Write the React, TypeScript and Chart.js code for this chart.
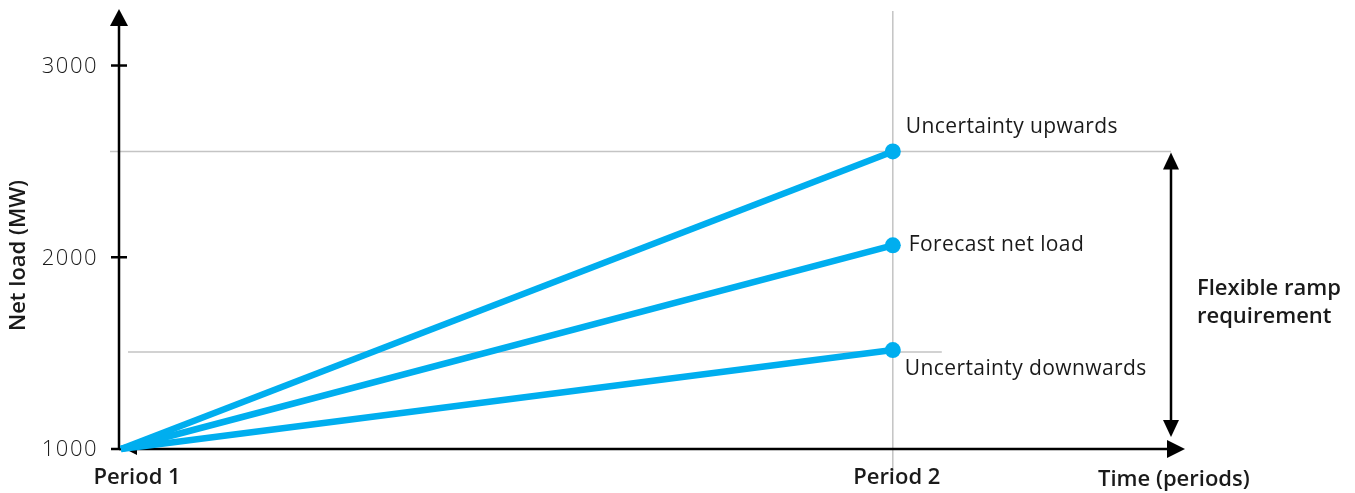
import React, { useEffect, useRef } from "react";
import { Chart, registerables } from "chart.js";

Chart.register(...registerables);

// ---- data ----
const periodValues = [0, 1];
const periodLabels = ["Period 1", "Period 2"];
const upwardSeries = [1000, 2552];
const forecastSeries = [1000, 2062];
const downwardSeries = [1000, 1516];
const yTickValues = [1000, 2000, 3000];
const seriesNames = ["Uncertainty upwards", "Forecast net load", "Uncertainty downwards"];
const xAxisTitle = "Time (periods)";
const yAxisTitle = "Net load (MW)";
const rampLabel = ["Flexible ramp", "requirement"];

const BLUE = "#00AEEF";
const GRAY = "#c4c4c4";
const TEXT = "#1a1a1a";
const FONT = "'Open Sans', 'Noto Sans', sans-serif";

function tri(ctx: CanvasRenderingContext2D, pts: number[][]) {
  ctx.beginPath();
  ctx.moveTo(pts[0][0], pts[0][1]);
  ctx.lineTo(pts[1][0], pts[1][1]);
  ctx.lineTo(pts[2][0], pts[2][1]);
  ctx.closePath();
  ctx.fill();
}

const decorPlugin = {
  id: "decor",
  beforeDatasetsDraw(chart: any) {
    const ctx: any = chart.ctx;
    const x = chart.scales.x;
    const y = chart.scales.y;
    const area = chart.chartArea;
    const x0 = x.getPixelForValue(periodValues[0]);
    const x1 = x.getPixelForValue(periodValues[1]);
    const yUp = y.getPixelForValue(upwardSeries[1]);
    const yDown = y.getPixelForValue(downwardSeries[1]);
    const yBase = y.getPixelForValue(yTickValues[0]);
    ctx.save();
    // gray reference lines
    ctx.strokeStyle = GRAY;
    ctx.lineWidth = 1.5;
    ctx.beginPath();
    ctx.moveTo(x0 - 11, yUp);
    ctx.lineTo(area.right - 12, yUp);
    ctx.moveTo(x0 + 7, yDown + 2);
    ctx.lineTo(x1 + 49, yDown + 2);
    ctx.moveTo(x1, area.top + 3);
    ctx.lineTo(x1, yBase + 23);
    ctx.stroke();

    // axes
    ctx.strokeStyle = "#000";
    ctx.fillStyle = "#000";
    ctx.lineWidth = 2.5;
    const ax = x0 - 2;
    ctx.beginPath();
    ctx.moveTo(ax, yBase);
    ctx.lineTo(ax, area.top + 14);
    ctx.moveTo(ax, yBase);
    ctx.lineTo(area.right - 14, yBase);
    ctx.stroke();
    tri(ctx, [[ax, area.top + 1], [ax - 9, area.top + 18], [ax + 9, area.top + 18]]);
    tri(ctx, [[area.right + 2, yBase], [area.right - 16, yBase - 9], [area.right - 16, yBase + 9]]);
    tri(ctx, [[x0 + 4, yBase], [x0 + 16, yBase - 6], [x0 + 16, yBase + 6]]);

    // y ticks
    ctx.lineWidth = 2.5;
    ctx.font = `300 22px ${FONT}`;
    ctx.letterSpacing = "1.5px";
    ctx.fillStyle = TEXT;
    ctx.textAlign = "right";
    ctx.textBaseline = "middle";
    for (const v of yTickValues) {
      const py = y.getPixelForValue(v);
      ctx.beginPath();
      ctx.moveTo(ax - 8, py);
      ctx.lineTo(ax + 8, py);
      ctx.stroke();
      ctx.fillText(String(v), ax - 21, py + 1);
    }
    ctx.letterSpacing = "0px";

    // ramp arrow
    const rx = area.right - 12;
    ctx.fillStyle = "#000";
    ctx.beginPath();
    ctx.moveTo(rx, yUp + 12);
    ctx.lineTo(rx, yBase - 24);
    ctx.stroke();
    tri(ctx, [[rx, yUp + 1], [rx - 8, yUp + 18], [rx + 8, yUp + 18]]);
    tri(ctx, [[rx, yBase - 12], [rx - 8, yBase - 29], [rx + 8, yBase - 29]]);
    ctx.restore();
  },
  afterDatasetsDraw(chart: any) {
    const ctx: any = chart.ctx;
    const x = chart.scales.x;
    const y = chart.scales.y;
    const area = chart.chartArea;
    const x1 = x.getPixelForValue(periodValues[1]);
    const yBase = y.getPixelForValue(yTickValues[0]);
    ctx.save();
    ctx.fillStyle = TEXT;
    ctx.textBaseline = "middle";
    // series labels
    ctx.font = `400 21px ${FONT}`;
    ctx.letterSpacing = "0.4px";
    ctx.textAlign = "left";
    ctx.fillText(seriesNames[0], x1 + 13, y.getPixelForValue(upwardSeries[1]) - 24);
    ctx.fillText(seriesNames[1], x1 + 16, y.getPixelForValue(forecastSeries[1]));
    ctx.fillText(seriesNames[2], x1 + 12, y.getPixelForValue(downwardSeries[1]) + 19);
    ctx.letterSpacing = "0px";
    // bold labels
    ctx.font = `600 22px ${FONT}`;
    ctx.textAlign = "center";
    periodValues.forEach((v, i) => {
      ctx.fillText(periodLabels[i], x.getPixelForValue(v) + (i === 0 ? 16 : 4), yBase + 29);
    });
    ctx.textAlign = "left";
    ctx.fillText(xAxisTitle, area.right - 85, yBase + 31);
    ctx.fillText(rampLabel[0], area.right + 14, 289);
    ctx.fillText(rampLabel[1], area.right + 14, 317);
    ctx.save();
    ctx.translate(19, (area.top + yBase) / 2 + 27);
    ctx.rotate(-Math.PI / 2);
    ctx.textAlign = "center";
    ctx.fillText(yAxisTitle, 0, 0);
    ctx.restore();
    ctx.restore();
  },
};

export default function App() {
  const ref = useRef<HTMLCanvasElement | null>(null);
  useEffect(() => {
    if (!ref.current) return;
    const mk = (data: number[]) => ({
      data: periodValues.map((p, i) => ({ x: p, y: data[i] })),
      borderColor: BLUE,
      backgroundColor: BLUE,
      borderWidth: 6.5,
      pointRadius: [0, 8],
      pointBorderWidth: 0,
      pointBackgroundColor: BLUE,
      clip: false as any,
    });
    const chart = new Chart(ref.current, {
      type: "line",
      data: {
        datasets: [mk(upwardSeries), mk(forecastSeries), mk(downwardSeries)],
      },
      options: {
        animation: false,
        responsive: false,
        layout: { padding: { left: 121, right: 172, top: 7, bottom: 44 } },
        plugins: { legend: { display: false }, tooltip: { enabled: false } },
        scales: {
          x: { type: "linear", min: 0, max: 1.376, display: false },
          y: { type: "linear", min: 1000, max: 3300, display: false },
        },
      },
      plugins: [decorPlugin],
    });
    return () => chart.destroy();
  }, []);
  return (
    <div style={{ position: "fixed", left: 0, top: 0, width: 1355, height: 493, background: "#fff" }}>
      <canvas ref={ref} width={1355} height={493} style={{ width: 1355, height: 493 }} />
    </div>
  );
}
